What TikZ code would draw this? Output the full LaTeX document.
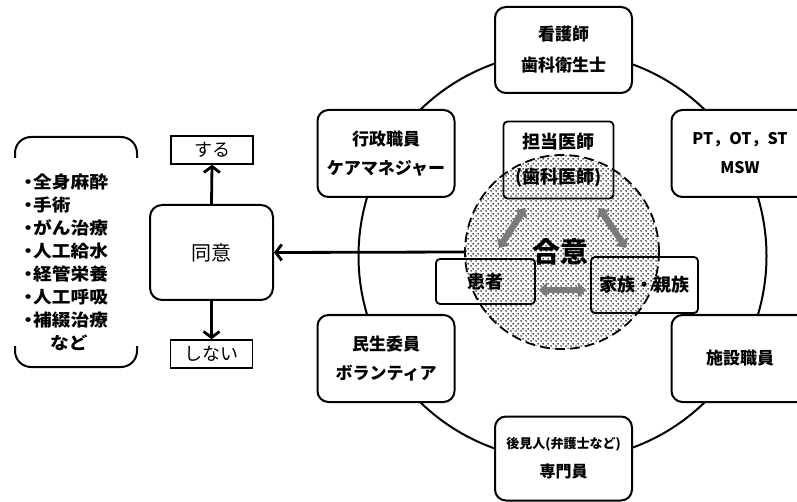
\documentclass[tikz,border=0pt]{standalone}
\usepackage{fontspec}
\newfontfamily\jp[BoldFont={Noto Sans CJK JP Black}]{Noto Sans CJK JP}
\newfontfamily\jpw[FakeStretch=1.1,BoldFont={Noto Sans CJK JP Black}]{Noto Sans CJK JP}
\usetikzlibrary{arrows.meta,patterns}
\pgfdeclarepatternformonly{bigdots}{\pgfqpoint{0pt}{0pt}}{\pgfqpoint{5pt}{5pt}}{\pgfqpoint{5pt}{5pt}}{%
  \pgfpathcircle{\pgfqpoint{1.25pt}{1.25pt}}{1pt}%
  \pgfpathcircle{\pgfqpoint{3.75pt}{3.75pt}}{1pt}%
  \pgfusepath{fill}}
\begin{document}
\begin{tikzpicture}[x=1pt,y=-1pt,
  obox/.style={draw, line width=2pt, rounded corners=11pt, fill=white,
    minimum width=137pt, minimum height=86pt, align=center, inner sep=0pt,
    font=\jp\bfseries\fontsize{17}{29}\selectfont},
  ibox/.style={draw, line width=1.8pt, rounded corners=4pt, align=center,
    inner sep=0pt, font=\jp\bfseries\fontsize{18}{35}\selectfont},
  sbox/.style={draw, line width=1.5pt, minimum width=82pt, minimum height=28pt,
    inner sep=0pt, font=\jp\fontsize{18}{20}\selectfont},
  blackarrow/.style={line width=2.8pt, -{Straight Barb[length=6pt,width=16pt]}},
  grayarrow/.style={line width=6.5pt, draw=black!52,
    {Triangle[length=8pt,width=15pt,line width=0.1pt]}-{Triangle[length=8pt,width=15pt,line width=0.1pt]}},
  brace/.style={line width=2pt, rounded corners=16pt}
]
\useasboundingbox (0,0) rectangle (797,502);
\clip (0,0) rectangle (797,502);

% big circle
\draw[line width=2pt] (562.5,256) circle[radius=204pt];

% outer boxes
\node[obox] (kango) at (563.5,50) {看護師\\[2pt]歯科衛生士};
\node[obox, minimum height=87pt] (gyosei) at (386,153.5) {行政職員\\ケアマネジャー};
\node[obox, minimum height=87pt] (pt) at (740,153.5) {\fontsize{16}{28}\selectfont PT，OT，ST\\\fontsize{16}{28}\selectfont MSW};
\node[obox, minimum height=87pt] (minsei) at (386,358.5) {民生委員\\ボランティア};
\node[obox, minimum height=87pt] (shisetsu) at (740,358.5) {施設職員};
\node[obox, minimum height=84pt] (kouken) at (563.5,458.5) {\fontsize{13}{24}\selectfont 後見人(弁護士など)\\\fontsize{16}{24}\selectfont 専門員};

% consensus circle
\node[circle, draw, dashed, dash pattern=on 10pt off 5pt, line width=1.8pt,
  pattern=bigdots, minimum size=194pt, inner sep=0pt] (agree) at (562,252) {};

% inner boxes
\node[ibox, minimum width=110pt, minimum height=77pt] (tanto) at (558.5,160) {担当医師\\(歯科医師)};
\node[ibox, minimum width=99pt, minimum height=45pt] (kanja) at (485.5,281.5) {患者};
\node[ibox, minimum width=107pt, minimum height=56pt] (kazoku) at (644.5,285) {家族・親族};
\node[font=\jp\bfseries\fontsize{28}{30}\selectfont, inner sep=0pt] (goi) at (560,252) {合意};

% gray arrows
\coordinate (g1a) at (499,248);
\coordinate (g1b) at (525,208);
\coordinate (g2a) at (599,208);
\coordinate (g2b) at (626,248);
\coordinate (g3a) at (539,290);
\coordinate (g3b) at (586,290);
\draw[grayarrow] (g1a) -- (g1b);
\draw[grayarrow] (g2a) -- (g2b);
\draw[grayarrow] (g3a) -- (g3b);

% left part
\node[draw, line width=2pt, rounded corners=12pt, minimum width=123pt,
  minimum height=95pt, font=\jp\fontsize{20}{24}\selectfont] (doi) at (211.5,252.5) {同意};
\node[sbox] (suru) at (212,150) {する};
\node[sbox] (shinai) at (211.5,354) {しない};
\draw[blackarrow] (doi.north) -- (suru.south);
\draw[blackarrow] (doi.south) -- (shinai.north);
\draw[blackarrow] (agree.west) -- (doi.east);

% list with bracket
\draw[brace] (15,158) -- (15,137) -- (137,137) -- (137,158);
\draw[brace] (15,346) -- (15,367) -- (137,367) -- (137,346);
\node[anchor=west, inner sep=0pt, align=left,
  font=\jpw\bfseries\fontsize{17}{23}\selectfont] (list) at (23,262.5)
  {\makebox[10pt]{・}全身麻酔\\
   \makebox[10pt]{・}手術\\
   \makebox[10pt]{・}がん治療\\
   \makebox[10pt]{・}人工給水\\
   \makebox[10pt]{・}経管栄養\\
   \makebox[10pt]{・}人工呼吸\\
   \makebox[10pt]{・}補綴治療\\
   \hspace{27pt}など};
\end{tikzpicture}
\end{document}
